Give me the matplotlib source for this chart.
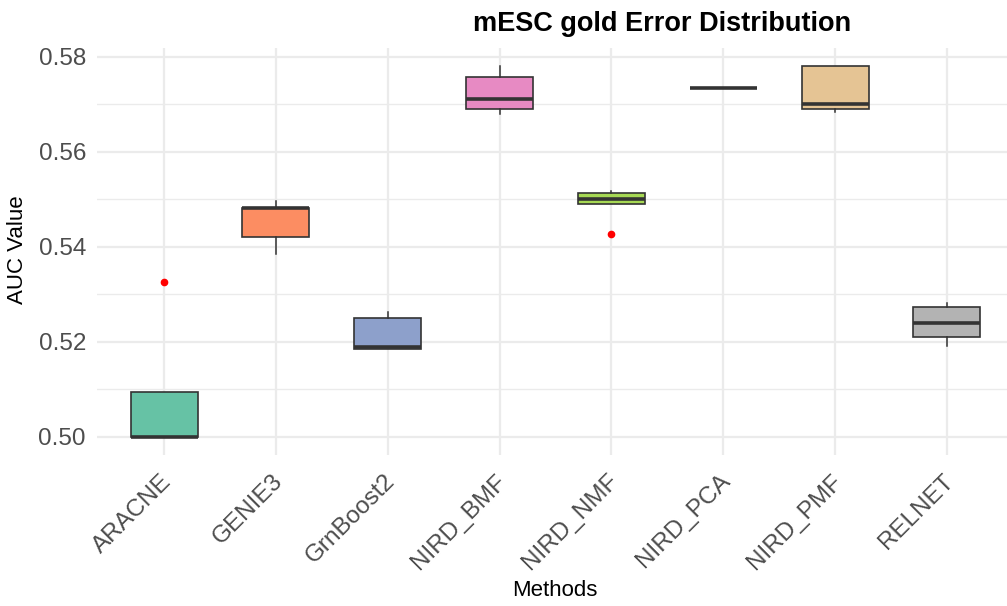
import matplotlib
matplotlib.use("Agg")
import matplotlib.pyplot as plt
from matplotlib.transforms import ScaledTranslation

plt.rcParams['font.family'] = ['Liberation Sans', 'DejaVu Sans']

# Methods and their AUC box statistics
methods = ["ARACNE", "GENIE3", "GrnBoost2", "NIRD_BMF",
           "NIRD_NMF", "NIRD_PCA", "NIRD_PMF", "RELNET"]
whisker_low = [0.5000, 0.5385, 0.5185, 0.5680, 0.5491, 0.5735, 0.5685, 0.5192]
q1 = [0.5000, 0.5420, 0.5185, 0.5691, 0.5491, 0.5735, 0.5690, 0.5210]
median = [0.5001, 0.5483, 0.5189, 0.5711, 0.5502, 0.5735, 0.5701, 0.5241]
q3 = [0.5095, 0.5483, 0.5250, 0.5757, 0.5513, 0.5735, 0.5780, 0.5273]
whisker_high = [0.5095, 0.5497, 0.5263, 0.5780, 0.5517, 0.5735, 0.5780, 0.5282]
outliers = [[0.5327], [], [], [], [0.5428], [], [], []]
fill_colors = ["#66C2A5", "#FC8D62", "#8DA0CB", "#E78AC3",
               "#A6D854", "#FFD92F", "#E5C494", "#B3B3B3"]
y_ticks = [0.50, 0.52, 0.54, 0.56, 0.58]

fig = plt.figure(figsize=(10.07, 6.06), dpi=100)
ax = fig.add_axes([97 / 1007, 151 / 606, 917 / 1007, 407 / 606])

stats = []
for i, name in enumerate(methods):
    stats.append(dict(label=name, whislo=whisker_low[i], q1=q1[i], med=median[i],
                      q3=q3[i], whishi=whisker_high[i], fliers=outliers[i]))

positions = list(range(1, len(methods) + 1))
bp = ax.bxp(stats, positions=positions, widths=0.6, patch_artist=True,
            showcaps=False, showfliers=True,
            boxprops=dict(edgecolor="#333333", linewidth=1.2),
            medianprops=dict(color="#333333", linewidth=2.6, solid_capstyle="butt"),
            whiskerprops=dict(color="#333333", linewidth=1.1),
            flierprops=dict(marker="o", markersize=4.5, markerfacecolor="red",
                            markeredgecolor="red"))
for patch, c in zip(bp["boxes"], fill_colors):
    patch.set_facecolor(c)
for artist_list in bp.values():
    for a in artist_list:
        a.set_zorder(3)

ax.set_xlim(0.4, 8.6)
ax.set_ylim(0.49621, 0.58189)
ax.set_yticks(y_ticks)
ax.set_yticklabels([f"{v:.2f}" for v in y_ticks])
ax.set_yticks([0.51, 0.53, 0.55, 0.57], minor=True)
ax.set_xticks(positions)
ax.set_xticklabels(methods)

for s in ax.spines.values():
    s.set_visible(False)
ax.set_axisbelow(True)
ax.grid(True, which="major", color="#EBEBEB", linewidth=1.6)
ax.grid(True, which="minor", axis="y", color="#EBEBEB", linewidth=1.0)
ax.tick_params(axis="both", which="both", length=0)
ax.tick_params(axis="y", labelsize=17.5, labelcolor="#4D4D4D", pad=8)
ax.tick_params(axis="x", labelsize=17.5, labelcolor="#4D4D4D", pad=11)

offset = ScaledTranslation(-4 / 100, 0, fig.dpi_scale_trans)
for lab in ax.get_xticklabels():
    lab.set_rotation(45)
    lab.set_ha("right")
    lab.set_va("top")
    lab.set_rotation_mode("anchor")
    lab.set_transform(lab.get_transform() + offset)

fig.text(18 / 1007, 1 - 250 / 606, "AUC Value", rotation=90, ha="center",
         va="center", fontsize=16, color="black")
fig.text(555 / 1007, 1 - 590 / 606, "Methods", ha="center", va="center",
         fontsize=16, color="black")
fig.text(662 / 1007, 1 - 31 / 606, "mESC gold Error Distribution", ha="center",
         va="baseline", fontsize=19.5, fontweight="bold", color="black")

fig.savefig("out.png", dpi=100, facecolor="white")
